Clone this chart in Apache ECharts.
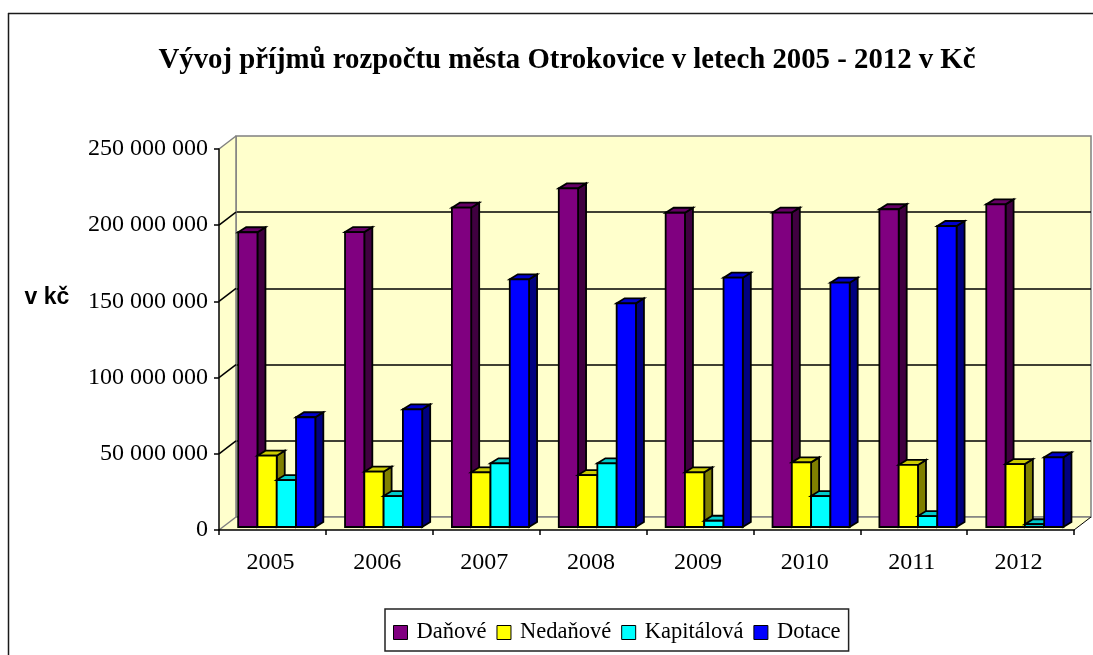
<!DOCTYPE html>
<html>
<head>
<meta charset="utf-8">
<style>html,body{margin:0;padding:0;background:#fff;overflow:hidden}#c{width:1093px;height:655px}</style>
<script src="https://cdn.jsdelivr.net/npm/echarts@6/dist/echarts.min.js"></script>
</head>
<body>
<div id="c"></div>
<script>
const years = ['2005','2006','2007','2008','2009','2010','2011','2012'];
const danove = [193400000,193500000,209500000,222200000,206200000,206300000,208500000,211700000];
const nedanove = [46800000,36300000,35900000,34100000,35900000,42400000,40700000,41300000];
const kapitalova = [30800000,20300000,41800000,41800000,4100000,20300000,7200000,1800000];
const dotace = [72000000,77200000,162500000,146800000,163600000,160300000,197500000,45700000];
const seriesNames = ['Daňové','Nedaňové','Kapitálová','Dotace'];
const frontColors = ['#800080','#ffff00','#00ffff','#0000ff'];
const topColors = ['#660066','#cccc00','#00cccc','#0000cc'];
const sideColors = ['#400040','#808000','#008080','#000080'];
const yTicks = [0,50000000,100000000,150000000,200000000,250000000];

const WALL_DX = 17, WALL_DY = -13, BAR_DX = 8, BAR_DY = -5, BAR_LIFT = -3, BAR_FRACTION = 0.1805, GROUP_SHIFT = 4.3;
const SERIF = '"Liberation Serif","Times New Roman",serif';
const INK = '#000', WALL_EDGE = '#808080', WALL_FILL = '#ffffcc';

function barSeries(name, values, k) {
  return {
    name, type: 'custom', xAxisIndex: 0, yAxisIndex: 0, z: 3, clip: false, silent: true,
    itemStyle: { color: frontColors[k] },
    encode: { x: 0, y: 1 },
    data: values.map((v, i) => [i, v]),
    renderItem(params, api) {
      const band = api.size([1, 0])[0];
      const w = band * BAR_FRACTION;
      const top = api.coord([api.value(0), api.value(1)]);
      const base = api.coord([api.value(0), 0]);
      const x0 = top[0] + GROUP_SHIFT - 2 * w + k * w, x1 = x0 + w;
      const y0 = top[1] + BAR_LIFT, y1 = base[1] + BAR_LIFT;
      const line = { stroke: INK, lineWidth: 1.8, lineJoin: 'miter' };
      return { type: 'group', children: [
        { type: 'polygon', shape: { points: [[x1, y0], [x1 + BAR_DX, y0 + BAR_DY], [x1 + BAR_DX, y1 + BAR_DY], [x1, y1]] }, style: Object.assign({ fill: sideColors[k] }, line) },
        { type: 'polygon', shape: { points: [[x0, y0], [x0 + BAR_DX, y0 + BAR_DY], [x1 + BAR_DX, y0 + BAR_DY], [x1, y0]] }, style: Object.assign({ fill: topColors[k] }, line) },
        { type: 'polygon', shape: { points: [[x0, y0], [x1, y0], [x1, y1], [x0, y1]] }, style: Object.assign({ fill: frontColors[k] }, line) }
      ] };
    }
  };
}

const wallSeries = {
  type: 'custom', xAxisIndex: 0, yAxisIndex: 0, z: 1, clip: false, silent: true,
  data: [[0, 0]], legendHoverLink: false,
  renderItem(params, api) {
    const g = params.coordSys;
    const l = g.x, r = g.x + g.width, t = g.y, b = g.y + g.height;
    const children = [
      { type: 'polygon', shape: { points: [[l, t], [l + WALL_DX, t + WALL_DY], [l + WALL_DX, b + WALL_DY], [l, b]] }, style: { fill: WALL_FILL } },
      { type: 'polygon', shape: { points: [[l, b], [l + WALL_DX, b + WALL_DY], [r + WALL_DX, b + WALL_DY], [r, b]] }, style: { fill: WALL_FILL } },
      { type: 'line', shape: { x1: l + WALL_DX, y1: t + WALL_DY, x2: l + WALL_DX, y2: b + WALL_DY }, style: { stroke: WALL_EDGE, lineWidth: 1.5 } },
      { type: 'line', shape: { x1: l + WALL_DX, y1: b + WALL_DY, x2: r + WALL_DX, y2: b + WALL_DY }, style: { stroke: WALL_EDGE, lineWidth: 1.5 } },
      { type: 'line', shape: { x1: r + WALL_DX, y1: b + WALL_DY, x2: r, y2: b }, style: { stroke: INK, lineWidth: 1 } }
    ];
    yTicks.forEach((v) => {
      const y = api.coord([0, v])[1];
      const edge = v === yTicks[0] || v === yTicks[yTicks.length - 1];
      children.push({ type: 'line', shape: { x1: l, y1: y, x2: l + WALL_DX, y2: y + WALL_DY }, style: { stroke: edge ? WALL_EDGE : INK, lineWidth: 1.5 } });
    });
    return { type: 'group', children };
  }
};

const chart = echarts.init(document.getElementById('c'), null, { renderer: 'canvas' });
chart.setOption({
  animation: false,
  backgroundColor: '#fff',
  graphic: [
    { type: 'line', silent: true, z: 0, shape: { x1: 8, y1: 13.5, x2: 1093, y2: 13.5 }, style: { stroke: '#1a1a1a', lineWidth: 1.5 } },
    { type: 'line', silent: true, z: 0, shape: { x1: 8.5, y1: 13, x2: 8.5, y2: 655 }, style: { stroke: '#1a1a1a', lineWidth: 1.5 } }
  ],
  title: [
    { text: 'Vývoj příjmů rozpočtu města Otrokovice v letech 2005 - 2012 v Kč', left: 567, top: 46, textAlign: 'center', padding: 0,
      textStyle: { fontFamily: SERIF, fontWeight: 'bold', fontSize: 28.8, color: '#000' } },
    { text: 'v kč', left: 47, top: 286, textAlign: 'center', padding: 0,
      textStyle: { fontFamily: '"Liberation Sans",Arial,sans-serif', fontWeight: 'bold', fontSize: 23, color: '#000' } }
  ],
  legend: {
    left: 385, top: 609, orient: 'horizontal', itemWidth: 14, itemHeight: 14, itemGap: 10, padding: [12, 8, 7, 8],
    borderColor: '#222', borderWidth: 1.5, backgroundColor: '#fff',
    data: seriesNames.map((name) => ({ name, icon: 'rect' })),
    itemStyle: { borderColor: '#000', borderWidth: 1 },
    textStyle: { fontFamily: SERIF, fontSize: 22.5, color: '#000', padding: [0, 0, 0, 4] },
    selectedMode: false
  },
  grid: [
    { left: 219, top: 149, width: 855, height: 381, show: false },
    { left: 236, top: 136, width: 855, height: 381, show: true, backgroundColor: WALL_FILL, borderColor: WALL_EDGE, borderWidth: 1.5, z: 0 }
  ],
  xAxis: [
    { type: 'category', gridIndex: 0, data: years, z: 5,
      axisLine: { show: true, onZero: false, lineStyle: { color: INK, width: 1.5 } },
      axisTick: { show: true, alignWithLabel: false, length: 5, lineStyle: { color: INK, width: 1.5 } },
      axisLabel: { fontFamily: SERIF, fontSize: 24, color: '#000', margin: 21, padding: [0, 4, 0, 0], interval: 0 },
      splitLine: { show: false } },
    { type: 'category', gridIndex: 1, data: years, show: false }
  ],
  yAxis: [
    { type: 'value', gridIndex: 0, min: 0, max: 250000000, interval: 50000000, z: 5,
      axisLine: { show: true, lineStyle: { color: INK, width: 1.5 } },
      axisTick: { show: true, length: 5, lineStyle: { color: INK, width: 1.5 } },
      axisLabel: { fontFamily: SERIF, fontSize: 24, color: '#000', margin: 11, padding: [3, 0, 0, 0],
        formatter: (v) => String(v).replace(/\B(?=(\d{3})+(?!\d))/g, ' ') },
      splitLine: { show: false } },
    { type: 'value', gridIndex: 1, min: 0, max: 250000000, interval: 50000000,
      axisLine: { show: false }, axisTick: { show: false }, axisLabel: { show: false },
      splitLine: { show: true, showMinLine: false, showMaxLine: false, lineStyle: { color: INK, width: 1.5 } } }
  ],
  series: [
    wallSeries,
    barSeries(seriesNames[0], danove, 0),
    barSeries(seriesNames[1], nedanove, 1),
    barSeries(seriesNames[2], kapitalova, 2),
    barSeries(seriesNames[3], dotace, 3)
  ]
});
</script>
</body>
</html>
